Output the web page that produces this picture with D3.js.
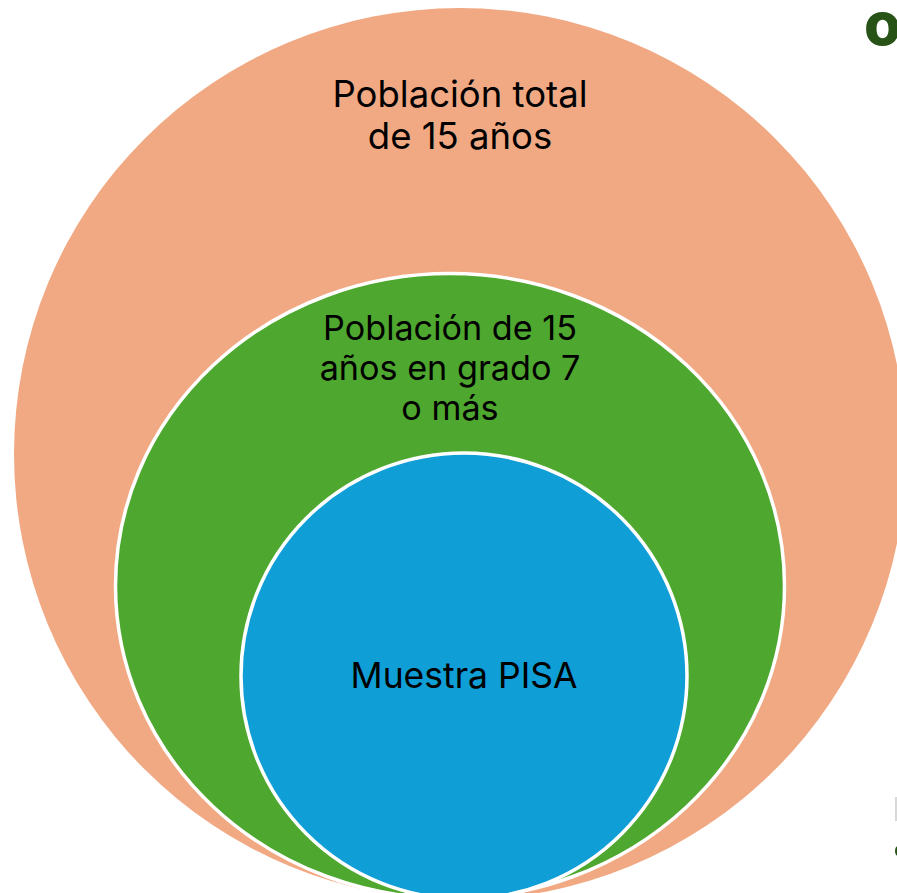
<!DOCTYPE html>
<html>
<head>
<meta charset="utf-8">
<script src="https://cdn.jsdelivr.net/npm/d3@7/dist/d3.min.js"></script>
<style>
  html, body { margin: 0; padding: 0; background: #ffffff; }
  svg { display: block; }
</style>
</head>
<body>
<svg id="chart" width="897" height="893"></svg>
<script>
// ---- data ----
const levels = ["Población total de 15 años", "Población de 15 años en grado 7 o más", "Muestra PISA"];
const labelLines = [
  ["Población total", "de 15 años"],
  ["Población de 15", "años en grado 7", "o más"],
  ["Muestra PISA"]
];
const relativeSize = [1.0, 0.75, 0.5];
const colors = ["#F1A983", "#4EA72E", "#0F9ED5"];

// ---- layout ----
const svg = d3.select("#chart");
const rScale = d3.scaleLinear().domain([0, 1]).range([0, 446]);

const geo = [
  { cx: 460, cy: 454, ky: 1.0, stroke: "none" },
  { cx: 450, cy: 586, ky: 0.934, stroke: "#ffffff" },
  { cx: 464, cy: 676, ky: 1.0, stroke: "#ffffff" }
];
const textGeo = [
  { x: 460, y: 107, lh: 42, size: 36.5 },
  { x: 450, y: 340, lh: 40, size: 34.2 },
  { x: 464, y: 688, lh: 40, size: 35.5 }
];

const nodes = levels.map((name, i) => ({
  name, value: relativeSize[i], color: colors[i], lines: labelLines[i], ...geo[i], t: textGeo[i]
}));

svg.selectAll("ellipse.level")
  .data(nodes)
  .join("ellipse")
  .attr("class", "level")
  .attr("cx", d => d.cx)
  .attr("cy", d => d.cy)
  .attr("rx", d => rScale(d.value))
  .attr("ry", d => rScale(d.value) * d.ky)
  .attr("fill", d => d.color)
  .attr("stroke", d => d.stroke)
  .attr("stroke-width", 3.5);

const labels = svg.selectAll("text.label")
  .data(nodes)
  .join("text")
  .attr("class", "label")
  .attr("text-anchor", "middle")
  .attr("font-family", "Inter, 'Noto Sans', sans-serif")
  .attr("font-size", d => d.t.size)
  .attr("fill", "#000000");

labels.selectAll("tspan")
  .data(d => d.lines.map((l, j) => ({ l, j, t: d.t })))
  .join("tspan")
  .attr("x", d => d.t.x)
  .attr("y", d => d.t.y + d.j * d.t.lh)
  .text(d => d.l);

// slide fragments at the right edge
svg.append("text")
  .attr("x", 864).attr("y", 45)
  .attr("font-family", "Inter, 'Noto Sans', sans-serif")
  .attr("font-weight", 800)
  .attr("font-size", 60)
  .attr("fill", "#275317")
  .text("o");
svg.append("rect").attr("x", 895).attr("y", 797).attr("width", 2).attr("height", 24).attr("fill", "#d9d9d9");
svg.append("ellipse").attr("cx", 898).attr("cy", 851).attr("rx", 3).attr("ry", 5).attr("fill", "#275317");
</script>
</body>
</html>
